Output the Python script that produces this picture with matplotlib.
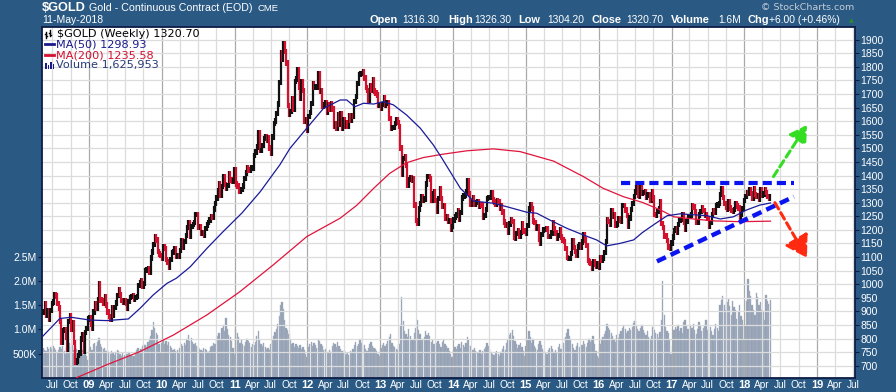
import numpy as np
import pandas as pd
import matplotlib
matplotlib.use("Agg")
import matplotlib.pyplot as plt
from matplotlib.collections import LineCollection
from matplotlib.lines import Line2D
from matplotlib.patches import Rectangle

# ---------------- data (weekly closes, Friday week ends) ----------------
close_2008 = [897, 928, 886, 901, 870, 904, 929, 934, 961, 957, 929, 913, 864, 786, 829, 833,
              804, 762, 863, 885, 834, 859, 786, 713, 718, 737, 747, 799, 815, 752, 823, 837, 872]
close_2009 = [878, 854, 838, 898, 928, 913, 941, 1002, 942, 940, 930, 953, 923, 897, 881, 869, 913,
              885, 915, 930, 958, 979, 963, 939, 934, 940, 931, 912, 937, 952, 955, 958, 946, 952, 955,
              996, 1006, 1011, 991, 1003, 1050, 1052, 1057, 1045, 1096, 1119, 1147, 1176, 1162, 1120, 1111, 1105]
close_2010 = [1096, 1138, 1131, 1090, 1081, 1063, 1090, 1117, 1118, 1132, 1102, 1106, 1104, 1125, 1161,
              1136, 1157, 1180, 1209, 1228, 1176, 1212, 1219, 1228, 1256, 1256, 1208, 1210, 1188, 1188,
              1181, 1204, 1218, 1228, 1237, 1250, 1246, 1276, 1298, 1318, 1345, 1369, 1327, 1359, 1397,
              1367, 1352, 1363, 1406, 1384, 1379, 1380, 1421]
close_2011 = [1369, 1361, 1342, 1341, 1349, 1361, 1388, 1409, 1429, 1421, 1418, 1428, 1428, 1474, 1486,
              1505, 1556, 1491, 1493, 1510, 1536, 1542, 1529, 1539, 1501, 1483, 1541, 1592, 1601, 1628,
              1663, 1742, 1852, 1828, 1884, 1856, 1814, 1657, 1624, 1635, 1682, 1642, 1746, 1755, 1788,
              1725, 1684, 1745, 1713, 1598, 1606, 1566]
close_2012 = [1617, 1631, 1665, 1737, 1725, 1725, 1725, 1776, 1710, 1711, 1656, 1662, 1669, 1631, 1659,
              1642, 1664, 1644, 1581, 1592, 1573, 1622, 1590, 1626, 1572, 1604, 1580, 1593, 1583, 1619,
              1605, 1620, 1617, 1672, 1691, 1739, 1771, 1773, 1775, 1781, 1759, 1724, 1712, 1676, 1731,
              1714, 1752, 1711, 1704, 1696, 1657, 1657]
close_2013 = [1649, 1662, 1687, 1657, 1667, 1667, 1609, 1572, 1576, 1577, 1592, 1607, 1596, 1581, 1501,
              1405, 1463, 1470, 1436, 1365, 1386, 1393, 1383, 1388, 1292, 1234, 1223, 1277, 1295, 1322,
              1310, 1314, 1369, 1396, 1396, 1387, 1308, 1333, 1339, 1309, 1268, 1315, 1352, 1315, 1287,
              1287, 1243, 1250, 1231, 1235, 1203, 1213]
close_2014 = [1237, 1248, 1254, 1270, 1240, 1263, 1318, 1324, 1326, 1339, 1379, 1334, 1294, 1303, 1318,
              1293, 1300, 1302, 1288, 1294, 1292, 1245, 1252, 1274, 1316, 1320, 1320, 1337, 1310, 1303,
              1294, 1309, 1305, 1280, 1287, 1266, 1229, 1216, 1218, 1192, 1222, 1238, 1230, 1172, 1169,
              1186, 1197, 1175, 1191, 1222, 1196, 1195]
close_2015 = [1187, 1217, 1277, 1292, 1278, 1233, 1227, 1204, 1212, 1164, 1152, 1183, 1199, 1201, 1204,
              1203, 1175, 1175, 1189, 1225, 1205, 1189, 1168, 1180, 1201, 1173, 1163, 1157, 1131, 1098,
              1094, 1094, 1113, 1159, 1134, 1121, 1108, 1137, 1145, 1137, 1156, 1182, 1162, 1142, 1088,
              1081, 1076, 1057, 1084, 1075, 1065, 1076]
close_2016 = [1061, 1097, 1089, 1097, 1116, 1158, 1239, 1231, 1221, 1270, 1250, 1254, 1216, 1222, 1240,
              1234, 1231, 1290, 1290, 1273, 1252, 1212, 1243, 1275, 1298, 1322, 1339, 1356, 1328, 1323,
              1357, 1336, 1338, 1341, 1321, 1328, 1328, 1310, 1339, 1317, 1257, 1254, 1267, 1276, 1304,
              1224, 1208, 1178, 1177, 1161, 1137, 1133, 1152]
close_2017 = [1173, 1197, 1205, 1190, 1220, 1234, 1239, 1257, 1226, 1201, 1230, 1249, 1249, 1254, 1288,
              1284, 1268, 1227, 1228, 1254, 1268, 1280, 1271, 1255, 1256, 1242, 1212, 1228, 1255, 1269,
              1264, 1290, 1291, 1297, 1330, 1351, 1320, 1297, 1284, 1275, 1303, 1280, 1272, 1270, 1274,
              1296, 1288, 1280, 1248, 1257, 1278, 1309]
close_2018 = [1322, 1335, 1333, 1349, 1333, 1315, 1353, 1330, 1323, 1324, 1313, 1349, 1327, 1332, 1347,
              1338, 1323, 1315, 1320.7]

# weekly volume, in units of 10,000 contracts
vol_2008 = [62, 58, 55, 63, 60, 64, 59, 66, 62, 57, 52, 58, 64, 60, 66, 55, 50, 62, 70, 72, 64, 68, 58, 66,
            60, 52, 56, 50, 58, 48, 54, 46, 36]
vol_2009 = [60, 64, 58, 70, 72, 66, 74, 82, 70, 64, 60, 62, 56, 58, 54, 50, 56, 52, 48, 54, 58, 56, 50, 46,
            52, 48, 44, 50, 54, 52, 48, 44, 46, 50, 58, 62, 56, 60, 66, 70, 68, 64, 74, 80, 86, 98, 115, 104,
            92, 88, 70, 52]
vol_2010 = [72, 80, 70, 76, 68, 74, 66, 62, 58, 60, 56, 58, 54, 62, 70, 66, 72, 68, 80, 88, 76, 82, 74, 70,
            72, 66, 64, 60, 58, 56, 62, 60, 58, 54, 56, 64, 66, 72, 70, 78, 86, 92, 80, 104, 110, 96, 123,
            100, 88, 84, 76, 62, 50]
vol_2011 = [100, 92, 84, 72, 78, 70, 66, 74, 80, 76, 72, 64, 70, 68, 74, 86, 96, 78, 70, 66, 72, 64, 60, 62,
            58, 70, 78, 86, 94, 100, 112, 128, 150, 158, 142, 120, 104, 98, 90, 78, 70, 72, 64, 70, 66, 62,
            68, 60, 64, 58, 50, 42]
vol_2012 = [64, 70, 74, 66, 72, 68, 62, 80, 76, 70, 66, 58, 60, 56, 52, 58, 54, 66, 72, 70, 64, 74, 66, 60,
            56, 54, 58, 50, 52, 48, 56, 52, 60, 68, 74, 66, 70, 80, 72, 64, 68, 60, 56, 62, 70, 74, 66, 62,
            60, 56, 50, 44]
vol_2013 = [62, 68, 72, 66, 70, 76, 84, 90, 72, 66, 64, 60, 58, 70, 110, 167, 118, 96, 90, 84, 100, 86, 80,
            78, 92, 104, 120, 98, 90, 80, 78, 84, 96, 88, 92, 86, 74, 78, 70, 68, 72, 76, 70, 64, 74, 80, 70,
            66, 62, 56, 50, 42]
vol_2014 = [58, 64, 60, 66, 70, 62, 74, 68, 64, 72, 84, 78, 66, 60, 58, 62, 56, 52, 54, 58, 50, 56, 60, 64,
            72, 66, 60, 54, 50, 48, 52, 56, 50, 46, 54, 60, 66, 58, 72, 80, 88, 92, 98, 86, 76, 70, 62, 68,
            72, 64, 56, 46]
vol_2015 = [66, 78, 96, 84, 72, 80, 66, 62, 58, 70, 76, 68, 60, 56, 52, 50, 58, 62, 66, 60, 54, 58, 52, 64,
            70, 60, 66, 72, 84, 92, 100, 86, 78, 70, 62, 58, 66, 72, 64, 60, 68, 76, 70, 64, 72, 80, 74, 78,
            86, 70, 56, 44]
vol_2016 = [40, 70, 78, 84, 90, 96, 112, 104, 98, 92, 86, 80, 74, 88, 82, 90, 96, 104, 110, 100, 92, 96, 104,
            98, 106, 114, 118, 108, 100, 96, 104, 110, 98, 92, 88, 96, 84, 80, 86, 106, 98, 92, 90, 82, 94,
            120, 200, 130, 106, 96, 92, 78, 50]
vol_2017 = [66, 98, 106, 100, 110, 96, 104, 92, 116, 120, 108, 100, 94, 110, 104, 112, 98, 90, 102, 116, 108,
            96, 104, 110, 120, 98, 92, 106, 96, 88, 100, 112, 104, 96, 150, 162, 170, 150, 140, 156, 164, 148,
            130, 160, 146, 140, 122, 136, 150, 128, 120, 80]
vol_2018 = [110, 160, 205, 180, 170, 150, 140, 130, 176, 168, 150, 158, 140, 136, 120, 172, 160, 152, 162]
VOL_UNIT = 10_000

# moving averages (decimal year, value)
ma50_t = [2008.36, 2008.60, 2008.76, 2009.01, 2009.24, 2009.54, 2009.70, 2009.88, 2010.07, 2010.20, 2010.39,
          2010.62, 2010.84, 2011.10, 2011.35, 2011.62, 2011.76, 2011.99, 2012.22, 2012.45, 2012.54, 2012.65,
          2012.77, 2012.91, 2013.04, 2013.18, 2013.36, 2013.55, 2013.73, 2013.85, 2013.96, 2014.10, 2014.28,
          2014.55, 2014.74, 2015.01, 2015.15, 2015.33, 2015.56, 2015.79, 2015.97, 2016.11, 2016.29, 2016.48,
          2016.60, 2016.75, 2016.94, 2017.12, 2017.49, 2017.67, 2017.85, 2018.03, 2018.21, 2018.36]
ma50_v = [807, 874, 878, 868, 866, 872, 911, 960, 1003, 1022, 1064, 1132, 1193, 1262, 1340, 1439, 1500, 1574,
          1647, 1678, 1678, 1653, 1666, 1663, 1672, 1660, 1623, 1574, 1512, 1462, 1414, 1353, 1306, 1298, 1285,
          1265, 1261, 1236, 1206, 1181, 1163, 1141, 1150, 1163, 1190, 1218, 1252, 1259, 1252, 1240, 1248, 1273,
          1291, 1299]
ma200_t = [2008.83, 2009.24, 2009.70, 2010.16, 2010.62, 2011.07, 2011.53, 2011.99, 2012.45, 2012.68, 2012.91,
           2013.13, 2013.36, 2013.59, 2013.85, 2014.19, 2014.55, 2014.92, 2015.38, 2015.79, 2016.06, 2016.34,
           2016.60, 2016.85, 2017.03, 2017.30, 2017.58, 2017.94, 2018.36]
ma200_v = [656, 703, 752, 813, 887, 972, 1071, 1175, 1243, 1291, 1353, 1408, 1447, 1466, 1478, 1491, 1498,
           1488, 1453, 1396, 1353, 1322, 1301, 1273, 1248, 1240, 1233, 1230, 1232]

# hand-drawn annotations (decimal year, price)
resist_t, resist_v = [2016.30, 2018.68], [1374, 1374]
support_t, support_v = [2016.80, 2018.68], [1084, 1322]
up_arrow_t, up_arrow_v = [2018.40, 2018.86], [1396, 1586]
down_arrow_t, down_arrow_v = [2018.42, 2018.86], [1300, 1097]

price_ticks = list(range(700, 1901, 50))
vol_ticks = [500_000, 1_000_000, 1_500_000, 2_000_000, 2_500_000]
vol_tick_labels = ["500K", "1.0M", "1.5M", "2.0M", "2.5M"]

# ---------------- assemble ----------------
close = np.array(close_2008 + close_2009 + close_2010 + close_2011 + close_2012 + close_2013 +
                 close_2014 + close_2015 + close_2016 + close_2017 + close_2018, dtype=float)
volume = np.array(vol_2008 + vol_2009 + vol_2010 + vol_2011 + vol_2012 + vol_2013 + vol_2014 +
                  vol_2015 + vol_2016 + vol_2017 + vol_2018, dtype=float) * VOL_UNIT
dates = pd.date_range(end="2018-05-11", periods=len(close), freq="W-FRI")


def dec_year(ts):
    ts = pd.DatetimeIndex(ts)
    days = np.where(ts.is_leap_year, 366.0, 365.0)
    return ts.year.values + (ts.dayofyear.values - 1) / days


t = dec_year(dates)
opens = np.concatenate([[close[0]], close[:-1]])
WICK = 10.0
lows = np.minimum(opens, close) - WICK
highs = np.maximum(opens, close) + WICK
up = close >= opens

# ---------------- figure ----------------
W, H = 896, 392
BG = "#2a5a84"
fig = plt.figure(figsize=(W / 100, H / 100), dpi=100)
fig.patch.set_facecolor(BG)


def fx(x):
    return x / W


def fy(y):
    return 1 - y / H


L, R, T, B = 42, 855, 26.7, 377.7
rect = [fx(L), fy(B), fx(R) - fx(L), fy(T) - fy(B)]
XMIN, XMAX = 2008.354, 2019.52
YMIN, YMAX = 655.8, 1947.7
VMAX = 7.28e6

axv = fig.add_axes(rect, zorder=1)
ax = fig.add_axes(rect, zorder=2)
ax.patch.set_alpha(0)
axv.set_facecolor("white")

for a in (ax, axv):
    a.set_xlim(XMIN, XMAX)
axv.set_ylim(0, VMAX)
ax.set_ylim(YMIN, YMAX)

# volume bars
axv.bar(t, volume, width=6.3 / 365.25, color="#909eb2", edgecolor="#a9b4c3", linewidth=0.3, align="center")
axv.set_yticks(vol_ticks)
axv.set_yticklabels(vol_tick_labels)
axv.tick_params(axis="y", left=True, right=False, labelleft=True, labelright=False, length=3,
                color="#0b1a40", labelcolor="white", labelsize=7.5, pad=1)
axv.set_xticks([])
for s in axv.spines.values():
    s.set_visible(False)
for lab in axv.get_yticklabels():
    lab.set_fontfamily("Liberation Sans")

# grid
quarters = []
qlabels = []
for yr in range(2008, 2020):
    for m, name in ((1, None), (4, "Apr"), (7, "Jul"), (10, "Oct")):
        ts = pd.Timestamp(yr, m, 1)
        x = dec_year([ts])[0]
        if XMIN <= x <= XMAX:
            quarters.append(x)
            qlabels.append(name if name else f"{yr % 100:02d}")
for x, lab in zip(quarters, qlabels):
    is_year = lab.isdigit()
    ax.axvline(x, color="#a9a9a9" if is_year else "#dcdcdc", lw=0.9, zorder=0.5)
for p in price_ticks:
    ax.axhline(p, color="#dcdcdc", lw=0.9, zorder=0.5)

# price bars
segs = [[(ti, lo), (ti, hi)] for ti, lo, hi in zip(t, lows, highs)]
cols = ["#111111" if u else "#d4102f" for u in up]
ax.add_collection(LineCollection(segs, colors=cols, linewidths=1.6, zorder=3))

# moving averages
ax.plot(ma200_t, ma200_v, color="#e0143c", lw=0.9, zorder=4)
ax.plot(ma50_t, ma50_v, color="#1a1a9a", lw=0.9, zorder=4)

# annotations
ax.plot(resist_t, resist_v, color="#0a14f0", lw=3.0, dashes=(2.2, 1.2), solid_capstyle="butt", zorder=5)
ax.plot(support_t, support_v, color="#0a14f0", lw=3.2, dashes=(2.2, 1.2), solid_capstyle="butt", zorder=5)
ax.annotate("", xy=(up_arrow_t[1], up_arrow_v[1]), xytext=(up_arrow_t[0], up_arrow_v[0]),
            arrowprops=dict(arrowstyle="-|>,head_length=1.0,head_width=0.6", color="#33dd22",
                            lw=2.2, linestyle=(0, (2.4, 1.4)), shrinkA=0, shrinkB=0), zorder=6)
ax.annotate("", xy=(down_arrow_t[1], down_arrow_v[1]), xytext=(down_arrow_t[0], down_arrow_v[0]),
            arrowprops=dict(arrowstyle="-|>,head_length=1.3,head_width=0.8", color="#ff2a10",
                            lw=2.2, linestyle=(0, (2.4, 1.4)), shrinkA=0, shrinkB=0), zorder=6)

# axes ticks
ax.yaxis.tick_right()
ax.set_yticks(price_ticks)
ax.set_yticklabels([str(p) for p in price_ticks])
ax.tick_params(axis="y", right=True, left=False, length=3, color="#0b1a40", labelcolor="white",
               labelsize=7.5, pad=1)
ax.set_xticks(quarters)
ax.set_xticklabels(qlabels)
ax.tick_params(axis="x", length=0, labelcolor="white", labelsize=7.3, pad=1.5)
for lab in ax.get_xticklabels():
    lab.set_fontfamily("Liberation Sans")
    if lab.get_text().isdigit():
        lab.set_fontweight("bold")
        lab.set_fontsize(8)
for lab in ax.get_yticklabels():
    lab.set_fontfamily("Liberation Sans")
for s in ax.spines.values():
    s.set_color("#0d1d45")
    s.set_linewidth(1.3)

# ---------------- header ----------------
HF = "Liberation Sans"
fig.text(fx(42), fy(8), "$GOLD", color="white", fontsize=9.2, fontweight="bold", family=HF, va="center")
fig.text(fx(89), fy(8), "Gold - Continuous Contract (EOD)", color="white", fontsize=7.7, family=HF,
         va="center")
fig.text(fx(257), fy(8.3), "CME", color="white", fontsize=6.8, family=HF, va="center")
fig.text(fx(42), fy(20), "11-May-2018", color="white", fontsize=7.45, family=HF, va="center")
fig.text(fx(854), fy(7.5), "\u00a9 StockCharts.com", color="#c4ccd6", fontsize=6.8, family="DejaVu Sans",
         va="center", ha="right")
stats = [(370, "Open", True), (402.7, "1316.30", False), (448, "High", True), (474.7, "1326.30", False),
         (518.7, "Low", True), (547, "1304.20", False), (591.3, "Close", True), (626.3, "1320.70", False),
         (671.3, "Volume", True), (718, "1.6M", False), (747.3, "Chg", True), (768.7, "+6.00 (+0.46%)", False)]
for x, s, bold in stats:
    fig.text(fx(x), fy(20), s, color="white", fontsize=7.9 if bold else 7.4, family=HF,
             fontweight="bold" if bold else "normal", va="center")
fig.text(fx(849), fy(20.5), "\u25b2", color="#2e8b2e", fontsize=4.5, va="center")

# ---------------- legend ----------------
LF = "DejaVu Sans"
LS = 8.1
rows = [33.7, 44.3, 55.0, 65.3]
fig.text(fx(57), fy(rows[0]), "$GOLD (Weekly) 1320.70", color="black", fontsize=LS, family=LF,
         va="center", zorder=10)
fig.text(fx(55.5), fy(rows[1]), "MA(50) 1298.93", color="#1a1a8c", fontsize=LS, family=LF, va="center",
         zorder=10)
fig.text(fx(55.5), fy(rows[2]), "MA(200) 1235.58", color="#d4102f", fontsize=LS, family=LF, va="center",
         zorder=10)
fig.text(fx(55.5), fy(rows[3]), "Volume 1,625,953", color="#2a3a78", fontsize=LS, family=LF, va="center",
         zorder=10)
# legend icons
fig.add_artist(Line2D([fx(45), fx(54)], [fy(rows[1]), fy(rows[1])], color="#1a1a8c", lw=2, zorder=10))
fig.add_artist(Line2D([fx(45), fx(54)], [fy(rows[2]), fy(rows[2])], color="#d4102f", lw=2, zorder=10))
for dx, h in ((45, 6), (47.5, 4), (50, 7), (52.5, 5)):
    fig.add_artist(Rectangle((fx(dx), fy(rows[3] + 3.5)), fx(1.6), h / H, facecolor="#1a1a8c",
                             edgecolor="none", transform=fig.transFigure, zorder=10))
for dx, y0, y1 in ((46, rows[0] + 4, rows[0] - 2), (50, rows[0] + 2, rows[0] - 4)):
    fig.add_artist(Line2D([fx(dx), fx(dx)], [fy(y0), fy(y1)], color="black", lw=1, zorder=10))
for xa, xb, yy in ((45, 46, rows[0]), (46, 47, rows[0] + 2), (49, 50, rows[0] - 1), (50, 51, rows[0] + 1)):
    fig.add_artist(Line2D([fx(xa), fx(xb)], [fy(yy), fy(yy)], color="black", lw=1, zorder=10))

fig.savefig("out.png", dpi=100, facecolor=fig.get_facecolor())
